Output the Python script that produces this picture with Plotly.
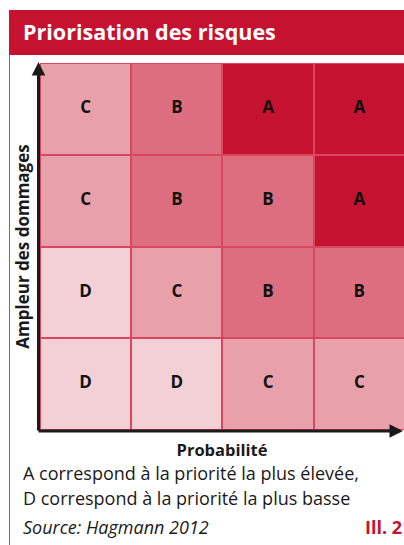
import plotly.graph_objects as go

# Risk priority matrix: rows go from low to high damage, columns from low to high probability
probabilite = [0, 1, 2, 3]
ampleur = [0, 1, 2, 3]
priorites = [
    ["D", "D", "C", "C"],
    ["D", "C", "B", "B"],
    ["C", "B", "B", "A"],
    ["C", "B", "A", "A"],
]
niveaux = ["D", "C", "B", "A"]
couleurs = {"A": "#C41230", "B": "#DC6E7F", "C": "#E8A1AB", "D": "#F3D0D6"}

titre = "Priorisation des risques"
titre_x = "Probabilité"
titre_y = "Ampleur des dommages"
note_1 = "A correspond à la priorité la plus élevée,"
note_2 = "D correspond à la priorité la plus basse"
source = "Source: Hagmann 2012"
illustration = "Ill. 2"

W, H = 404, 545
ML, MR, MT, MB = 40, 0, 63, 115
PW, PH = W - ML - MR, H - MT - MB


def px(x):
    return (x - ML) / PW


def py(y):
    return (H - MB - y) / PH


z = [[niveaux.index(v) for v in row] for row in priorites]
n = len(niveaux)
colorscale = []
for i, lvl in enumerate(niveaux):
    colorscale.append([i / n, couleurs[lvl]])
    colorscale.append([(i + 1) / n, couleurs[lvl]])

RED = "#C41230"
INK = "#1a1a1a"
FONT = "Open Sans"

fig = go.Figure()
fig.add_trace(go.Heatmap(
    x=probabilite,
    y=ampleur,
    z=z,
    zmin=-0.5,
    zmax=n - 0.5,
    colorscale=colorscale,
    showscale=False,
    xgap=2,
    ygap=2,
    hoverinfo="skip",
))

# Priority letters centred in each cell
lx, ly, lt = [], [], []
for j, row in enumerate(priorites):
    for i, val in enumerate(row):
        lx.append(probabilite[i])
        ly.append(ampleur[j])
        lt.append(f"<b>{val}</b>")
fig.add_trace(go.Scatter(
    x=lx, y=ly, text=lt, mode="text",
    textposition="middle center",
    textfont=dict(family=FONT, size=17, color="#111111"),
    hoverinfo="skip",
))

fig.update_layout(
    width=W,
    height=H,
    margin=dict(l=ML, r=MR, t=MT, b=MB),
    paper_bgcolor="white",
    plot_bgcolor="#D9475F",
    showlegend=False,
    xaxis=dict(
        range=[-0.5, 3.49], showgrid=False, zeroline=False, showticklabels=False,
        ticks="", fixedrange=True,
        title=dict(text=f"<b>{titre_x}</b>", standoff=14,
                   font=dict(family=FONT, size=16.5, color=INK)),
    ),
    yaxis=dict(
        range=[-0.5, 3.5], showgrid=False, zeroline=False, showticklabels=False,
        ticks="", fixedrange=True,
        title=dict(text=f"<b>{titre_y}</b>", standoff=5,
                   font=dict(family=FONT, size=17, color=INK)),
    ),
)

# Header band and left frame rule
fig.add_shape(type="rect", xref="paper", yref="paper",
              x0=px(9), x1=px(404), y0=py(55), y1=py(10),
              fillcolor=RED, line_width=0, layer="above")
fig.add_shape(type="line", xref="paper", yref="paper",
              x0=px(9.5), x1=px(9.5), y0=py(55), y1=py(545),
              line=dict(color="#D04060", width=1))

annotations = [
    dict(text=f"<b>{titre}</b>", x=px(21), y=py(32), xanchor="left", yanchor="middle",
         font=dict(family=FONT, size=21.5, color="white")),
    dict(text=note_1, x=px(21), y=py(473), xanchor="left", yanchor="middle",
         font=dict(family=FONT, size=18, color=INK)),
    dict(text=note_2, x=px(21), y=py(498), xanchor="left", yanchor="middle",
         font=dict(family=FONT, size=18, color=INK)),
    dict(text=f"<i>{source}</i>", x=px(21), y=py(527), xanchor="left", yanchor="middle",
         font=dict(family=FONT, size=18, color=INK)),
    dict(text=f"<b>{illustration}</b>", x=px(404), y=py(527), xanchor="right", yanchor="middle",
         font=dict(family=FONT, size=18, color=RED)),
    # axis arrows
    dict(text="", x=px(38.5), y=py(62), ax=0, ay=370, showarrow=True,
         arrowhead=2, arrowsize=0.9, arrowwidth=3, arrowcolor=INK, standoff=0),
    dict(text="", x=px(406), y=py(431), ax=-369, ay=0, showarrow=True,
         arrowhead=2, arrowsize=0.9, arrowwidth=3, arrowcolor=INK, standoff=0),
]
for a in annotations:
    a.setdefault("xref", "paper")
    a.setdefault("yref", "paper")
    a.setdefault("showarrow", False)
    fig.add_annotation(**a)

fig.write_html("out.html")
